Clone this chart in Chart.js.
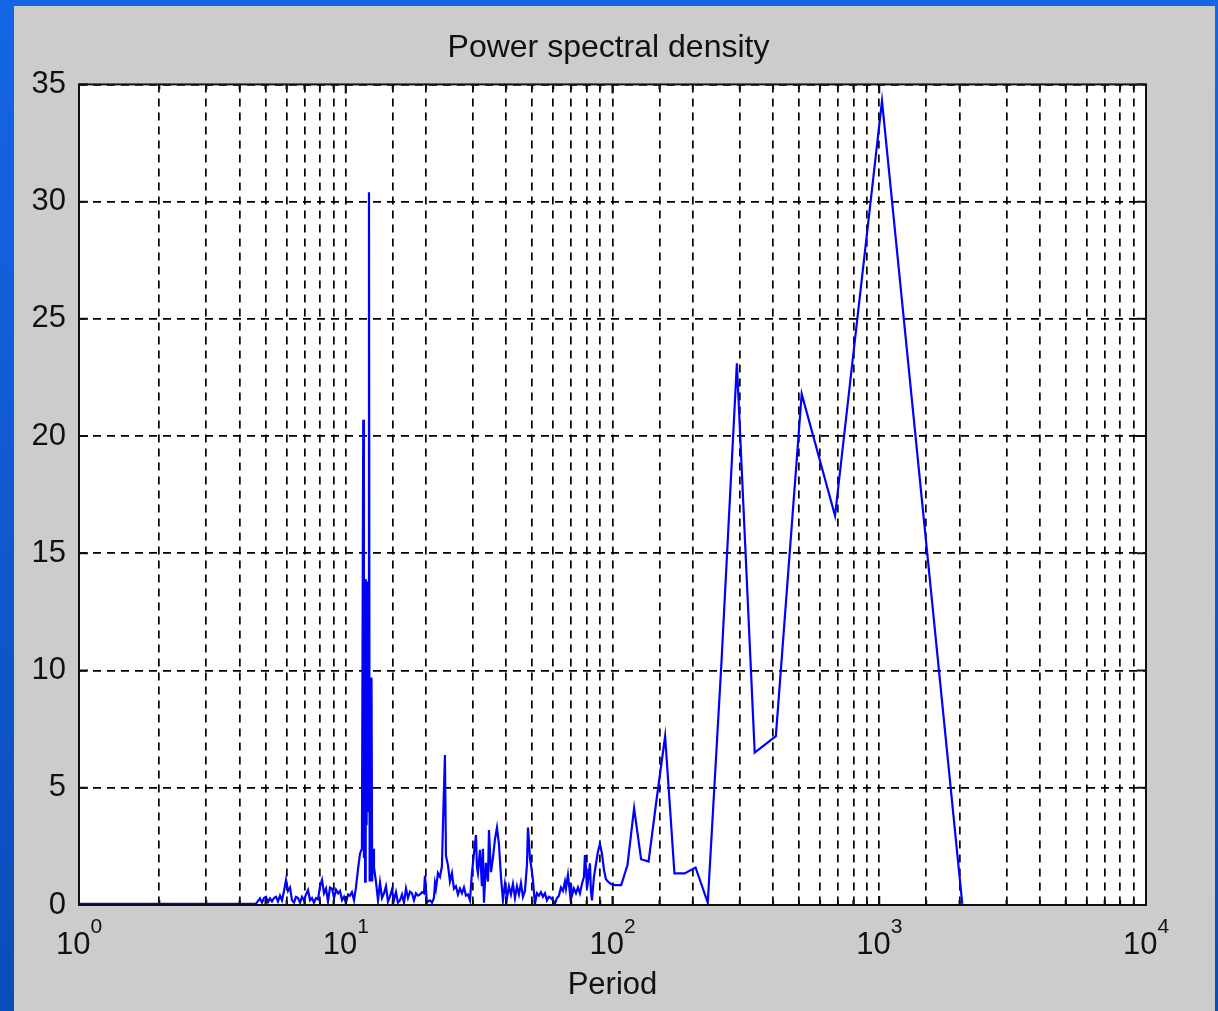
<!DOCTYPE html>
<html>
<head>
<meta charset="utf-8">
<title>Power spectral density</title>
<script src="https://cdn.jsdelivr.net/npm/chart.js@4.4.0/dist/chart.umd.min.js"></script>
<style>
  html, body { margin: 0; padding: 0; }
  body { width: 1218px; height: 1011px; overflow: hidden; background: linear-gradient(#1466e6, #0b4db8); }
  #panel { position: absolute; left: 14px; top: 6px; width: 1201px; height: 1005px; background: #cccccc; }
</style>
</head>
<body>
<div id="panel"><canvas id="psd" width="1201" height="1005"></canvas></div>
<script>
// period (x, log axis) and power
const periods = [
  1, 2, 3, 4, 4.6,
  4.770, 4.853, 4.938, 5.024, 5.111, 5.200, 5.291, 5.383, 5.477, 5.572,
  5.669, 5.768, 5.869, 5.971, 6.075, 6.181, 6.288, 6.398, 6.509, 6.623,
  6.738, 6.855, 6.975, 7.096, 7.220, 7.345, 7.473, 7.603, 7.736, 7.871,
  8.008, 8.147, 8.289, 8.433, 8.580, 8.730, 8.882, 9.036, 9.194, 9.354,
  9.517, 9.683, 9.851, 10.02, 10.20, 10.37, 10.55, 10.74, 10.92, 11.11,
  11.31, 11.50, 11.63, 11.70, 11.76, 11.82, 11.88, 11.97, 12.06, 12.13,
  12.22, 12.29, 12.36, 12.43, 12.49, 12.56, 12.67, 12.76, 12.98, 13.21,
  13.44, 13.67, 13.91, 14.15, 14.40, 14.65, 14.90, 15.16, 15.43, 15.69,
  15.97, 16.25, 16.53, 16.82, 17.11, 17.41, 17.71, 18.02, 18.33, 18.65,
  18.98, 19.31, 19.64, 19.81, 20.15, 20.33, 20.69, 21.05, 21.41, 21.60,
  21.78, 22.16, 22.55, 22.94, 23.14, 23.54, 23.75, 24.16, 24.58, 25.01,
  25.44, 25.89, 26.34, 26.80, 27.26, 27.74, 28.22, 28.71, 29.22, 29.72,
  30.24, 30.77, 31.04, 31.30, 31.85, 32.40, 32.68, 32.97, 33.54, 34.13,
  34.43, 35.02, 35.63, 36.25, 36.88, 37.52, 38.18, 38.84, 39.52, 40.21,
  40.90, 41.62, 42.34, 43.08, 43.83, 44.59, 45.37, 46.16, 46.96, 47.78,
  48.20, 48.62, 49.04, 49.77, 50.32, 51.20, 52.09, 52.99, 53.92, 54.86,
  55.82, 56.79, 57.78, 58.79, 59.80, 60.85, 61.91, 62.98, 64.08, 65.20,
  66.33, 66.91, 68.07, 69.26, 69.86, 70.46, 71.69, 72.94, 74.21, 75.50,
  76.81, 78.15, 78.83, 79.51, 80.20, 80.90, 82.31, 83.02, 83.74, 85.20,
  86.68, 88.19, 89.73, 91.29, 92.88, 94.50, 96.14, 98.67, 102.4, 107.8,
  113.8, 120.5, 128, 136.5, 146.3, 157.5, 170.7, 186.2, 204.8, 227.6,
  256, 292.6, 341.3, 409.6, 512, 682.7, 1024, 2048
];
const power = [
  0.05, 0.05, 0.05, 0.05, 0.05,
  0.28, 0.1, 0.3, 0.35, 0.12, 0.28, 0.15, 0.3, 0.35, 0.15,
  0.4, 0.2, 0.6, 1.07, 0.6, 0.75, 0.2, 0.1, 0.35, 0.3,
  0.1, 0.35, 0.2, 0.45, 0.64, 0.2, 0.3, 0.1, 0.3, 0.25,
  0.8, 1.07, 0.5, 0.7, 0.15, 0.75, 0.7, 0.3, 0.65, 0.5,
  0.6, 0.2, 0.35, 0.1, 0.45, 0.4, 0.55, 0.2, 0.75, 1.5,
  2.2, 2.4, 20.7, 2.0, 13.9, 1.0, 13.9, 3.4, 13.8, 4.0,
  30.4, 1.0, 9.7, 1.0, 9.7, 1.0, 2.4, 1.6, 1.0, 0.2,
  0.95, 0.3, 0.5, 0.8, 0.15, 0.37, 0.65, 0.2, 0.55, 0.1,
  0.2, 0.45, 0.1, 0.7, 0.3, 0.57, 0.5, 0.2, 0.5, 0.4,
  0.45, 0.55, 0.5, 1.25, 0.1, 0.15, 0.2, 0.1, 0.3, 0.92,
  0.7, 1.36, 1.2, 1.65, 3.4, 6.4, 2.1, 1.7, 1.0, 1.36,
  0.7, 0.8, 0.45, 0.7, 0.5, 0.75, 0.4, 0.45, 0.2, 1.36,
  2.2, 2.98, 1.6, 1.36, 2.35, 0.8, 2.4, 0.1, 1.8, 1.0,
  3.2, 1.4, 2.0, 2.8, 3.3, 2.6, 1.2, 0.2, 0.9, 0.3,
  0.8, 0.45, 0.9, 0.3, 0.8, 0.45, 0.93, 0.35, 0.6, 1.7,
  3.3, 2.7, 2.0, 1.5, 1.06, 0.05, 0.5, 0.4, 0.55, 0.35,
  0.5, 0.2, 0.35, 0.3, 0.2, 0.05, 0.3, 0.4, 0.75, 0.6,
  1.0, 0.7, 1.28, 0.5, 0.9, 0.4, 0.7, 0.5, 0.75, 0.5,
  0.9, 1.2, 2.13, 1.6, 0.7, 1.0, 1.78, 0.6, 0.2, 1.2,
  1.75, 2.27, 2.6, 2.2, 1.5, 1.1, 1.0, 0.9, 0.85, 0.85,
  1.7, 4.13, 1.95, 1.85, 4.5, 7.2, 1.35, 1.35, 1.6, 0.1,
  10.3, 23.1, 6.5, 7.2, 21.8, 16.6, 34.3, 0.05
];
const decadeExps = [0, 1, 2, 3, 4];
const yTicks = [0, 5, 10, 15, 20, 25, 30, 35];

const fam = '"Liberation Sans", Arial, sans-serif';
const ink = '#111111';

function isDecade(v) {
  const l = Math.log10(v);
  return Math.abs(l - Math.round(l)) < 1e-9;
}

// white axes box, inner tick marks, outer frame and 10^n labels
const matlabAxes = {
  id: 'matlabAxes',
  beforeDraw(chart) {
    const { ctx, chartArea: a } = chart;
    ctx.save();
    ctx.fillStyle = '#ffffff';
    ctx.fillRect(a.left, a.top, a.right - a.left, a.bottom - a.top);
    ctx.restore();
  },
  afterDraw(chart) {
    const { ctx, chartArea: a } = chart;
    const xs = chart.scales.x;
    const ys = chart.scales.y;
    ctx.save();
    ctx.strokeStyle = ink;
    ctx.lineWidth = 2;
    ctx.beginPath();
    xs.ticks.forEach((t) => {
      const px = xs.getPixelForValue(t.value);
      const len = isDecade(t.value) ? 9 : 5;
      ctx.moveTo(px, a.bottom);
      ctx.lineTo(px, a.bottom - len);
      ctx.moveTo(px, a.top);
      ctx.lineTo(px, a.top + len);
    });
    yTicks.forEach((v) => {
      const py = ys.getPixelForValue(v);
      ctx.moveTo(a.left, py);
      ctx.lineTo(a.left + 9, py);
      ctx.moveTo(a.right, py);
      ctx.lineTo(a.right - 9, py);
    });
    ctx.stroke();
    ctx.strokeRect(a.left, a.top, a.right - a.left, a.bottom - a.top);

    ctx.fillStyle = ink;
    ctx.textAlign = 'left';
    ctx.textBaseline = 'alphabetic';
    decadeExps.forEach((e) => {
      const px = xs.getPixelForValue(Math.pow(10, e));
      ctx.font = '31px ' + fam;
      const wBase = ctx.measureText('10').width;
      ctx.font = '21px ' + fam;
      const wExp = ctx.measureText(String(e)).width;
      const left = px - (wBase + wExp) / 2;
      ctx.font = '31px ' + fam;
      ctx.fillText('10', left, a.bottom + 49);
      ctx.font = '21px ' + fam;
      ctx.fillText(String(e), left + wBase, a.bottom + 28);
    });
    ctx.restore();
  }
};

const gridLines = { color: '#000000', lineWidth: 1.7, drawTicks: false };
const gridDash = { display: false, dash: [8, 6] };

new Chart(document.getElementById('psd'), {
  type: 'line',
  data: {
    datasets: [{
      data: periods.map((p, i) => ({ x: p, y: power[i] })),
      borderColor: '#0000ff',
      borderWidth: 2.2,
      pointRadius: 0,
      tension: 0,
      fill: false
    }]
  },
  options: {
    responsive: false,
    animation: false,
    layout: { padding: { left: 0, right: 12, top: 0, bottom: 0 } },
    plugins: {
      legend: { display: false },
      tooltip: { enabled: false },
      title: {
        display: true,
        text: 'Power spectral density',
        color: ink,
        font: { family: fam, size: 32, weight: 'normal', lineHeight: 1.2 },
        padding: { top: 23, bottom: 17 }
      }
    },
    scales: {
      x: {
        type: 'logarithmic',
        min: 1,
        max: 10000,
        afterFit: (s) => { s.height = 106; },
        ticks: { display: false },
        grid: gridLines,
        border: gridDash,
        title: {
          display: true,
          text: 'Period',
          color: ink,
          font: { family: fam, size: 31, weight: 'normal', lineHeight: 1.2 },
          padding: { top: 0, bottom: 7 }
        }
      },
      y: {
        min: 0,
        max: 35,
        afterFit: (s) => { s.width = 65; },
        ticks: {
          stepSize: 5,
          color: ink,
          padding: 13,
          font: { family: fam, size: 31 }
        },
        grid: gridLines,
        border: gridDash
      },
      // empty right axis, only reserves the grey margin beside the box
      yRight: {
        position: 'right',
        min: 0,
        max: 35,
        afterFit: (s) => { s.width = 57; },
        ticks: { display: false },
        grid: { drawOnChartArea: false, drawTicks: false },
        border: { display: false }
      }
    }
  },
  plugins: [matlabAxes]
});
</script>
</body>
</html>
